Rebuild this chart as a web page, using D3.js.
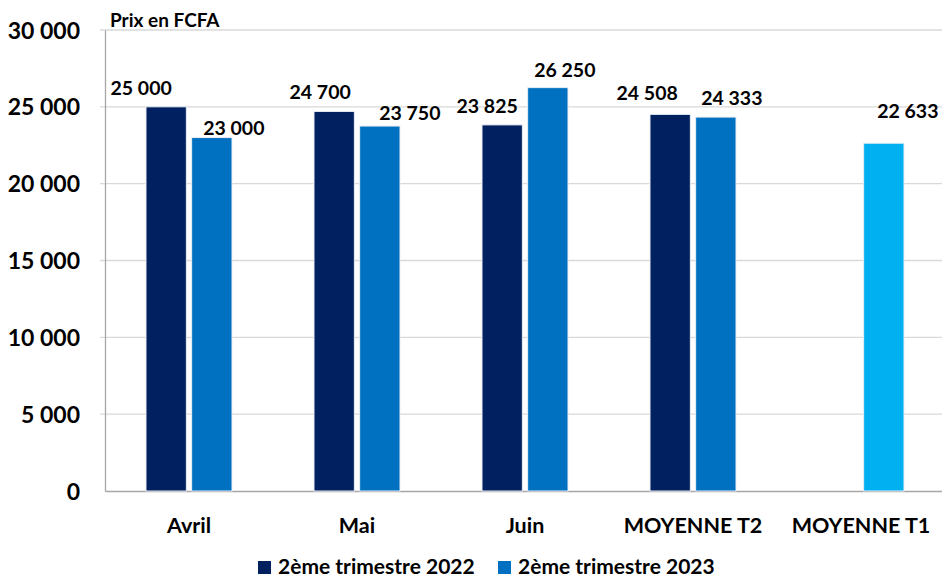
<!DOCTYPE html>
<html>
<head>
<meta charset="utf-8">
<script src="https://cdn.jsdelivr.net/npm/d3@7"></script>
<style>
  html, body { margin: 0; padding: 0; background: #fff; }
  svg { display: block; font-family: Lato, "Open Sans", sans-serif; font-weight: 700; }
</style>
</head>
<body>
<svg id="chart"></svg>
<script>
const categories = ["Avril", "Mai", "Juin", "MOYENNE T2", "MOYENNE T1"];
const seriesNames = ["2ème trimestre 2022", "2ème trimestre 2023"];
const values2022 = [25000, 24700, 23825, 24508, null];
const values2023 = [23000, 23750, 26250, 24333, 22633];
const yTicks = [0, 5000, 10000, 15000, 20000, 25000, 30000];

// label nudges (dx, dy) per series, to mimic the original placement
const nudge2022 = [[-25, -12], [-14, -12], [-15, -12], [-23, -14], [0, 0]];
const nudge2023 = [[22, -3], [30, -6], [17, -11], [16, -12], [24, -25]];

const colors = ["#002060", "#0070c0"];
const t1Color = "#00b0f0";

const svg = d3.select("#chart"),
      width = 942,
      height = 580,
      margin = {top: 30, right: -3, bottom: 89, left: 105};

svg.attr("width", width).attr("height", height);

const fmt = v => d3.format(",")(v).replace(/,/g, " ");

const x = d3.scaleBand()
  .domain(categories)
  .range([margin.left, width - margin.right]);

const xSeries = d3.scaleBand()
  .domain(seriesNames)
  .range([x.bandwidth() / 2 - 43, x.bandwidth() / 2 + 43])
  .paddingInner(0.116);

const y = d3.scaleLinear()
  .domain([0, 30000])
  .range([height - margin.bottom, margin.top]);

// gridlines
svg.append("g")
  .selectAll("line")
  .data(yTicks.slice(1))
  .enter()
  .append("line")
  .attr("x1", margin.left - 5)
  .attr("x2", 942)
  .attr("y1", d => y(d))
  .attr("y2", d => y(d))
  .attr("stroke", "#d9d9d9")
  .attr("stroke-width", 1.3);

// y axis
const yAxis = d3.axisLeft(y).tickValues(yTicks).tickFormat(fmt).tickSize(0).tickPadding(25);
const gy = svg.append("g")
  .attr("transform", `translate(${margin.left}, 0)`)
  .call(yAxis);
gy.select(".domain").attr("stroke", "#a6a6a6").attr("stroke-width", 1.3);
gy.selectAll("text")
  .attr("font-size", 23)
  .attr("font-family", "Lato, sans-serif")
  .attr("font-weight", 700)
  .attr("fill", "#000")
  .attr("dy", "0.35em");

// x axis
const xAxis = d3.axisBottom(x).tickSize(0).tickPadding(27);
const gx = svg.append("g")
  .attr("transform", `translate(0, ${height - margin.bottom})`)
  .call(xAxis);
gx.select(".domain").attr("stroke", "#a6a6a6").attr("stroke-width", 1.3);
gx.selectAll("text")
  .attr("font-size", 21.5)
  .attr("font-family", "Lato, sans-serif")
  .attr("font-weight", 700)
  .attr("fill", "#000");

// bars
const rows = categories.map((c, i) => ({
  cat: c,
  bars: [
    {series: seriesNames[0], value: values2022[i], color: colors[0], nudge: nudge2022[i]},
    {series: seriesNames[1], value: values2023[i], color: c === "MOYENNE T1" ? t1Color : colors[1], nudge: nudge2023[i]}
  ].filter(b => b.value != null)
}));

const groups = svg.selectAll(".group")
  .data(rows)
  .enter()
  .append("g")
  .attr("class", "group")
  .attr("transform", d => `translate(${x(d.cat)}, 0)`);

groups.selectAll("rect")
  .data(d => d.bars)
  .enter()
  .append("rect")
  .attr("x", d => xSeries(d.series))
  .attr("y", d => y(d.value))
  .attr("width", xSeries.bandwidth())
  .attr("height", d => y(0) - y(d.value))
  .attr("fill", d => d.color)
  .attr("stroke", "#e8eef6")
  .attr("stroke-width", 1);

groups.selectAll(".lbl")
  .data(d => d.bars)
  .enter()
  .append("text")
  .attr("class", "lbl")
  .attr("x", d => xSeries(d.series) + xSeries.bandwidth() / 2 + d.nudge[0])
  .attr("y", d => y(d.value) + d.nudge[1])
  .attr("text-anchor", "middle")
  .attr("font-size", 19.5)
  .attr("fill", "#000")
  .text(d => fmt(d.value));

// unit title
svg.append("text")
  .attr("x", 110)
  .attr("y", 27)
  .attr("font-size", 19)
  .attr("fill", "#000")
  .text("Prix en FCFA");

// legend
const legend = svg.append("g").attr("transform", "translate(258, 0)");
const items = legend.selectAll("g")
  .data(seriesNames)
  .enter()
  .append("g")
  .attr("transform", (d, i) => `translate(${i * 240}, 0)`);
items.append("rect")
  .attr("x", 0)
  .attr("y", 561)
  .attr("width", 13)
  .attr("height", 13)
  .attr("fill", (d, i) => colors[i]);
items.append("text")
  .attr("x", 20)
  .attr("y", 574)
  .attr("font-size", 21)
  .attr("fill", "#000")
  .text(d => d);
</script>
</body>
</html>
